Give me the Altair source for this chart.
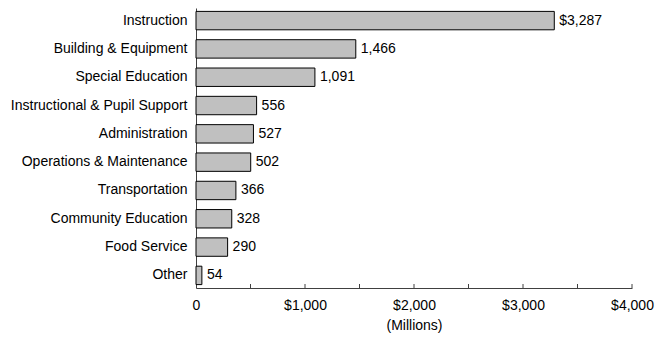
import altair as alt
import pandas as pd

categories = ["Instruction", "Building & Equipment", "Special Education",
              "Instructional & Pupil Support", "Administration",
              "Operations & Maintenance", "Transportation",
              "Community Education", "Food Service", "Other"]
values = [3287, 1466, 1091, 556, 527, 502, 366, 328, 290, 54]
value_labels = ["$3,287", "1,466", "1,091", "556", "527", "502", "366", "328", "290", "54"]
tick_values = [0, 500, 1000, 1500, 2000, 2500, 3000, 3500, 4000]

df = pd.DataFrame({"cat": categories, "val": values, "lab": value_labels})
ticks_df = pd.DataFrame({"t": tick_values[1:]})

FONT = "Liberation Sans"
FS = 14
W, H = 436, 280

xscale = alt.Scale(domain=[0, 4000], nice=False)
yscale = alt.Scale(paddingInner=0.35, paddingOuter=0.12)

bars = alt.Chart(df).mark_bar(fill="#C0C0C0", stroke="#000000", strokeWidth=1).encode(
    x=alt.X("val:Q", scale=xscale,
            axis=alt.Axis(values=tick_values, title="(Millions)", ticks=False, grid=False,
                          labelExpr="datum.value % 1000 == 0 ? (datum.value == 0 ? '0' : '$' + format(datum.value, ',')) : ''",
                          labelFlush=False, labelOverlap=False,
                          labelPadding=10, titlePadding=6, domainColor="#404040",
                          labelColor="#000000", titleColor="#000000",
                          titleFontWeight="normal")),
    y=alt.Y("cat:N", sort=categories, scale=yscale,
            axis=alt.Axis(title=None, ticks=False, labelPadding=9, domainColor="#404040",
                          labelColor="#000000")),
)

text = alt.Chart(df).mark_text(align="left", baseline="middle", dx=5, font=FONT,
                                fontSize=FS, color="#000000").encode(
    x=alt.X("val:Q", scale=xscale),
    y=alt.Y("cat:N", sort=categories, scale=yscale),
    text="lab:N",
)

tickmarks = alt.Chart(ticks_df).mark_rule(color="#404040", strokeWidth=1).encode(
    x=alt.X("t:Q", scale=xscale),
    y=alt.value(H - 4),
    y2=alt.value(H),
)

chart = alt.layer(bars, text, tickmarks).properties(
    width=W, height=H,
    autosize=alt.AutoSizeParams(type="none"),
    padding={"left": 188, "top": 0, "right": 23, "bottom": 45},
).configure_axis(
    labelFont=FONT, titleFont=FONT, labelFontSize=FS, titleFontSize=FS,
).configure_view(stroke=None)

chart.save("out.html", embed_options={"renderer": "svg", "actions": False})
